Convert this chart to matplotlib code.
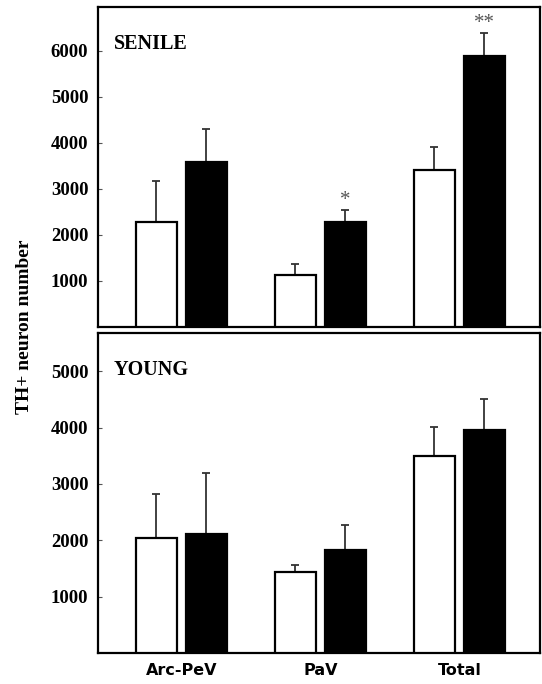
import matplotlib
matplotlib.use("Agg")
import matplotlib.pyplot as plt
import numpy as np

# data
regions = ["Arc-PeV", "PaV", "Total"]
senile_white = [2270, 1130, 3400]
senile_white_err = [910, 240, 500]
senile_black = [3590, 2290, 5890]
senile_black_err = [700, 260, 500]
senile_stars = ["", "*", "**"]

young_white = [2050, 1430, 3500]
young_white_err = [770, 130, 520]
young_black = [2110, 1820, 3950]
young_black_err = [1080, 460, 550]

serif = ["Liberation Serif", "DejaVu Serif"]

fig = plt.figure(figsize=(5.42, 6.84), dpi=100)
ax1 = fig.add_axes([0.1808, 0.5219, 0.8155, 0.4679])
ax2 = fig.add_axes([0.1808, 0.0453, 0.8155, 0.4679])

x = np.arange(len(regions))
w = 0.29
off = 0.18


def panel(ax, white, werr, black, berr, title, ymax, ticks):
    ax.bar(x - off, white, w, color="white", edgecolor="black", linewidth=1.6, zorder=3)
    ax.bar(x + off, black, w, color="black", edgecolor="black", linewidth=1.6, zorder=3)
    ax.errorbar(x - off, white, yerr=[np.zeros(3), werr], fmt="none",
                ecolor="#333333", elinewidth=1.3, capsize=3, capthick=1.3, zorder=2)
    ax.errorbar(x + off, black, yerr=[np.zeros(3), berr], fmt="none",
                ecolor="#333333", elinewidth=1.3, capsize=3, capthick=1.3, zorder=2)
    ax.set_xlim(-0.6, 2.58)
    ax.set_ylim(0, ymax)
    ax.set_yticks(ticks)
    ax.set_yticklabels([str(t) for t in ticks], family=serif, fontweight="bold", fontsize=13.5)
    ax.tick_params(axis="y", direction="in", length=3, width=0.8, color="#555555", pad=7)
    for s in ax.spines.values():
        s.set_linewidth(1.6)
    ax.text(0.036, 0.885, title, transform=ax.transAxes, family=serif,
            fontweight="bold", fontsize=14.5, va="center", ha="left")


panel(ax1, senile_white, senile_white_err, senile_black, senile_black_err,
      "SENILE", 6950, [1000, 2000, 3000, 4000, 5000, 6000])
panel(ax2, young_white, young_white_err, young_black, young_black_err,
      "YOUNG", 5680, [1000, 2000, 3000, 4000, 5000])

# significance stars
for i, s in enumerate(senile_stars):
    if s:
        ax1.annotate(s, (x[i] + off, senile_black[i] + senile_black_err[i]),
                     xytext=(0, 0), textcoords="offset points", ha="center", va="bottom",
                     fontsize=15, color="#555555", family=serif)

ax1.set_xticks([])
ax2.set_xticks(x)
ax2.set_xticklabels(regions, fontweight="bold", fontsize=11.5, family="DejaVu Sans")
ax2.tick_params(axis="x", length=0, pad=7)

fig.text(0.046, 0.523, "TH+ neuron number", rotation=90, ha="center", va="center",
         family=serif, fontweight="bold", fontsize=14)

fig.savefig("out.png", dpi=100)
